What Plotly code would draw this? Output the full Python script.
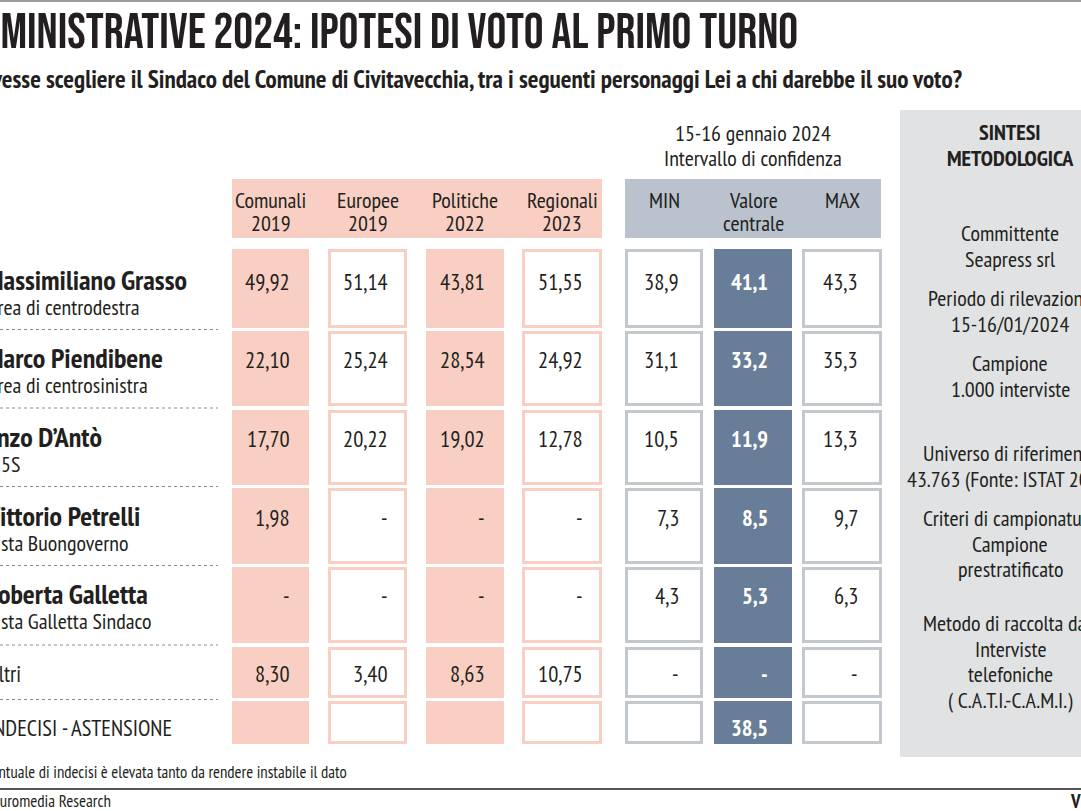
import plotly.graph_objects as go

# ---------------- data ----------------
title = "AMMINISTRATIVE 2024: IPOTESI DI VOTO AL PRIMO TURNO"
question = ("Se dovesse scegliere il Sindaco del Comune di Civitavecchia, tra i seguenti "
            "personaggi Lei a chi darebbe il suo voto?")
candidates = ["Massimiliano Grasso", "Marco Piendibene", "Enzo D’Antò", "Vittorio Petrelli",
              "Roberta Galletta", "Altri", "INDECISI - ASTENSIONE"]
areas = ["Area di centrodestra", "Area di centrosinistra", "M5S", "Lista Buongoverno",
         "Lista Galletta Sindaco", "", ""]
election_headers = ["Comunali\n2019", "Europee\n2019", "Politiche\n2022", "Regionali\n2023"]
# rows: Grasso, Piendibene, D'Antò, Petrelli, Galletta, Altri (None = "-")
comunali_2019 = [49.92, 22.10, 17.70, 1.98, None, 8.30]
europee_2019 = [51.14, 25.24, 20.22, None, None, 3.40]
politiche_2022 = [43.81, 28.54, 19.02, None, None, 8.63]
regionali_2023 = [51.55, 24.92, 12.78, None, None, 10.75]
survey_period = "15-16 gennaio 2024\nIntervallo di confidenza"
ic_headers = ["MIN", "Valore\ncentrale", "MAX"]
ic_min = [38.9, 31.1, 10.5, 7.3, 4.3, None]
ic_central = [41.1, 33.2, 11.9, 8.5, 5.3, None]
ic_max = [43.3, 35.3, 13.3, 9.7, 6.3, None]
indecisi_central = 38.5
method_title = "SINTESI\nMETODOLOGICA"
method_blocks = ["Committente\nSeapress srl",
                 "Periodo di rilevazione\n15-16/01/2024",
                 "Campione\n1.000 interviste",
                 "Universo di riferimento\n43.763 (Fonte: ISTAT 2023)",
                 "Criteri di campionatura\nCampione\nprestratificato",
                 "Metodo di raccolta dati\nInterviste\ntelefoniche\n( C.A.T.I.-C.A.M.I.)"]
note = "La percentuale di indecisi è elevata tanto da rendere instabile il dato"
source = "Fonte: Euromedia Research"

# ---------------- style / layout ----------------
W, H = 1081, 811
FONT = "PT Sans Narrow"
INK = "#231f20"
PINK = "#f8cfc2"
GRAYHDR = "#b9c2cd"
SLATE = "#687d97"
GRAYBORDER = "#c3c8cf"
PANEL = "#e1e2e3"

row_top = [249, 331, 410, 488, 567, 647, 701]
row_bot = [328, 406, 485, 564, 643, 698, 744]
row_text_y = [281, 359, 438, 517, 595, 673, 727]
elec_cols = [(232, 309), (328, 407), (426, 504), (522, 602)]
elec_filled = [True, False, True, False]
ic_cols = [(625, 703), (714, 792), (802, 882)]

fig = go.Figure()
shapes = []
ann = []


def rect(x0, x1, y0, y1, fill, line=None, lw=0):
    if line:
        h = lw / 2
        shapes.append(dict(type="rect", xref="x", yref="y", x0=x0 + h, x1=x1 - h, y0=y0 + h, y1=y1 - h,
                           fillcolor=fill, line=dict(color=line, width=lw), layer="below"))
    else:
        shapes.append(dict(type="rect", xref="x", yref="y", x0=x0, x1=x1, y0=y0, y1=y1,
                           fillcolor=fill, line=dict(width=0), layer="below"))


def text(x, y, s, size=20, color=INK, bold=False, anchor="center", xshift=0, family=FONT):
    ann.append(dict(x=x, y=y, xref="x", yref="y", text=s, showarrow=False, xanchor=anchor,
                    yanchor="middle", xshift=xshift,
                    font=dict(family=family, size=size, color=color, weight="bold" if bold else "normal")))


def lines(x, y0, block, step, **kw):
    for i, s in enumerate(block.split("\n")):
        text(x, y0 + i * step, s, **kw)


def fmt2(v):
    return "-" if v is None else f"{v:.2f}".replace(".", ",")


def fmt1(v):
    return "-" if v is None else f"{v:.1f}".replace(".", ",")


# top / bottom rules
shapes.append(dict(type="line", xref="x", yref="y", x0=0, x1=W, y0=1, y1=1, line=dict(color="#9b9b9b", width=2)))
shapes.append(dict(type="line", xref="x", yref="y", x0=0, x1=W, y0=789, y1=789, line=dict(color="#555555", width=2)))

# title and question
text(800, 33, title, size=49.5, anchor="right", family="Bebas Neue")
text(965, 78, question, size=25.1, anchor="right", bold=True)

# methodology panel
rect(900, W + 20, 110, 757, PANEL)
lines(1010, 132, method_title, 26, size=22, bold=True)
block_y = [233, 298, 363, 453, 518, 623]
for y0, b in zip(block_y, method_blocks):
    lines(1010, y0, b, 25.5, size=22)

# headers
rect(232, 602, 179, 238, PINK)
rect(625, 881, 179, 238, GRAYHDR)
for (x0, x1), h in zip(elec_cols, election_headers):
    lines((x0 + x1) / 2, 200, h, 23, size=22)
for (x0, x1), h in zip(ic_cols, ic_headers):
    lines((x0 + x1) / 2, 200, h, 23, size=22)
lines(753, 133, survey_period, 25, size=22)

# election cells
series = [comunali_2019, europee_2019, politiche_2022, regionali_2023]
for (x0, x1), filled, vals in zip(elec_cols, elec_filled, series):
    for r in range(len(row_top)):
        if filled:
            rect(x0, x1, row_top[r], row_bot[r], PINK)
        else:
            rect(x0, x1, row_top[r], row_bot[r], "white", PINK, 3)
        if r < len(vals):
            text(x1 - 17, row_text_y[r], fmt2(vals[r]), size=22.5, anchor="right")

# confidence interval cells
ic_series = [ic_min, ic_central, ic_max]
for c, ((x0, x1), vals) in enumerate(zip(ic_cols, ic_series)):
    for r in range(len(row_top)):
        if c == 1:
            rect(x0, x1, row_top[r], row_bot[r], SLATE)
        else:
            rect(x0, x1, row_top[r], row_bot[r], "white", GRAYBORDER, 3)
        if r < len(vals):
            text(x1 - 22, row_text_y[r], fmt1(vals[r]), size=22.5, anchor="right",
                 color="white" if c == 1 else INK, bold=(c == 1))
text(ic_cols[1][1] - 22, row_text_y[-1], fmt1(indecisi_central), size=22.5, anchor="right",
     color="white", bold=True)

# row labels
for r, (name, area) in enumerate(zip(candidates, areas)):
    if area:
        text(0, row_text_y[r] - 2, name, size=28, bold=True, anchor="left", xshift=-17)
        text(0, row_text_y[r] + 26, area, size=22, anchor="left", xshift=-15)
    else:
        text(0, row_text_y[r], name, size=22.5, anchor="left", xshift=-14)

# dotted separators
for r in range(len(row_top) - 1):
    y = (row_bot[r] + row_top[r + 1]) / 2
    shapes.append(dict(type="line", xref="x", yref="y", x0=0, x1=218, y0=y, y1=y,
                       line=dict(color="#8a8a8a", width=1, dash="dot")))

# footnotes
text(349, 772, note, size=16.8, anchor="right")
text(0, 801, source, size=17, anchor="left", xshift=-50)
text(1068, 801, "V", size=19, anchor="left", bold=True)

fig.update_layout(
    width=W, height=H, margin=dict(l=0, r=0, t=0, b=0),
    paper_bgcolor="white", plot_bgcolor="white", showlegend=False,
    xaxis=dict(range=[0, W], visible=False, fixedrange=True),
    yaxis=dict(range=[H, 0], visible=False, fixedrange=True),
    shapes=shapes, annotations=ann,
)
fig.write_html("out.html", config={"displayModeBar": False},
               post_script="document.body.style.margin='0';document.body.style.overflow='hidden';")
